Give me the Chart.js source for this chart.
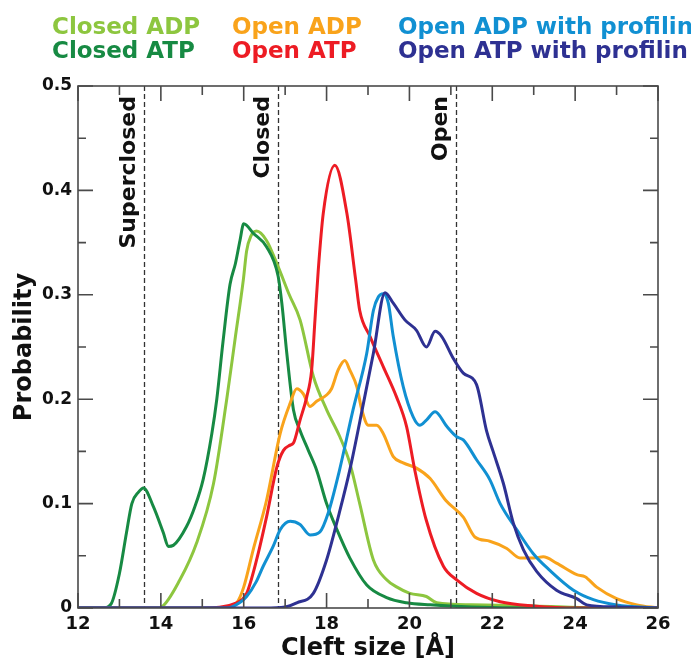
<!DOCTYPE html>
<html>
<head>
<meta charset="utf-8">
<script src="https://cdn.jsdelivr.net/npm/chart.js@4"></script>
<style>
  html, body { margin: 0; padding: 0; background: #fff; }
  #wrap { width: 691px; height: 661px; }
</style>
</head>
<body>
<div id="wrap"><canvas id="cleftChart" width="691" height="661"></canvas></div>
<script>
// cleft size distributions, x in Å, y = probability
const closedAdpX = [12, 13.9, 14.02, 14.46, 14.86, 15.27, 15.59, 15.8, 15.99, 16.07, 16.17, 16.31, 16.55, 16.83, 17.1, 17.36, 17.68, 18.0, 18.32, 18.56, 18.8, 19.13, 19.45, 19.7, 20.01, 20.41, 20.66, 21.5, 23, 24.5, 26];
const closedAdpY = [0, 0, 0.001, 0.027, 0.062, 0.119, 0.2, 0.26, 0.314, 0.342, 0.356, 0.361, 0.352, 0.327, 0.3, 0.276, 0.222, 0.19, 0.164, 0.139, 0.1, 0.046, 0.027, 0.02, 0.014, 0.011, 0.005, 0.003, 0.002, 0, 0];

const closedAtpX = [12, 12.6, 12.8, 13.0, 13.17, 13.3, 13.46, 13.58, 13.82, 14.06, 14.18, 14.3, 14.62, 14.82, 15.02, 15.23, 15.35, 15.5, 15.67, 15.8, 15.91, 16.0, 16.23, 16.55, 16.83, 16.92, 17.04, 17.2, 17.36, 17.56, 17.76, 18.0, 18.25, 18.56, 18.97, 19.45, 19.93, 20.5, 21.5, 23, 26];
const closedAtpY = [0, 0, 0.004, 0.033, 0.072, 0.1, 0.111, 0.115, 0.097, 0.072, 0.059, 0.06, 0.078, 0.097, 0.123, 0.167, 0.2, 0.255, 0.31, 0.33, 0.352, 0.368, 0.359, 0.346, 0.318, 0.292, 0.244, 0.19, 0.17, 0.151, 0.132, 0.1, 0.075, 0.048, 0.022, 0.01, 0.005, 0.003, 0.001, 0, 0];

const openAdpX = [12, 15.5, 15.83, 16.0, 16.23, 16.55, 16.88, 17.12, 17.28, 17.44, 17.6, 17.76, 18.0, 18.12, 18.28, 18.44, 18.56, 18.73, 18.85, 19.01, 19.21, 19.37, 19.61, 19.85, 20.17, 20.5, 20.88, 21.3, 21.58, 21.94, 22.35, 22.67, 23.0, 23.23, 23.55, 24.04, 24.24, 24.52, 25.0, 25.49, 26];
const openAdpY = [0, 0, 0.005, 0.02, 0.056, 0.103, 0.167, 0.196, 0.21, 0.205, 0.193, 0.198, 0.204, 0.21, 0.228, 0.237, 0.228, 0.212, 0.19, 0.175, 0.175, 0.167, 0.145, 0.139, 0.134, 0.124, 0.103, 0.087, 0.068, 0.064, 0.057, 0.048, 0.048, 0.049, 0.043, 0.032, 0.03, 0.02, 0.009, 0.003, 0];

const openAtpX = [12, 15.0, 15.83, 16.07, 16.31, 16.55, 16.8, 16.96, 17.12, 17.2, 17.36, 17.52, 17.64, 17.72, 17.8, 17.92, 18.2, 18.49, 18.7, 18.8, 19.05, 19.37, 19.69, 19.93, 20.13, 20.4, 20.82, 21.14, 21.62, 22.19, 23.0, 24, 26];
const openAtpY = [0, 0, 0.005, 0.014, 0.046, 0.087, 0.135, 0.151, 0.156, 0.158, 0.18, 0.202, 0.228, 0.276, 0.324, 0.378, 0.424, 0.378, 0.315, 0.285, 0.26, 0.231, 0.202, 0.174, 0.132, 0.085, 0.04, 0.027, 0.014, 0.006, 0.002, 0, 0];

const openAdpProfX = [12, 15.6, 15.9, 16.07, 16.3, 16.47, 16.71, 16.88, 17.12, 17.36, 17.6, 17.84, 18.04, 18.3, 18.64, 18.97, 19.13, 19.25, 19.37, 19.49, 19.61, 19.85, 20.09, 20.25, 20.41, 20.62, 20.9, 21.14, 21.3, 21.62, 21.94, 22.19, 22.59, 22.99, 23.39, 23.96, 24.44, 25.0, 26];
const openAdpProfY = [0, 0, 0.005, 0.011, 0.025, 0.04, 0.059, 0.075, 0.083, 0.08, 0.07, 0.073, 0.091, 0.13, 0.19, 0.244, 0.285, 0.298, 0.301, 0.292, 0.26, 0.212, 0.183, 0.175, 0.18, 0.188, 0.174, 0.164, 0.161, 0.142, 0.123, 0.1, 0.075, 0.052, 0.036, 0.017, 0.008, 0.003, 0];

const openAtpProfX = [12, 16.5, 17.0, 17.28, 17.68, 18.0, 18.3, 18.56, 18.89, 19.13, 19.41, 19.61, 19.89, 20.17, 20.41, 20.62, 20.78, 21.06, 21.3, 21.62, 21.86, 22.02, 22.27, 22.51, 22.75, 23.07, 23.55, 24.04, 24.28, 25, 26];
const openAtpProfY = [0, 0, 0.001, 0.005, 0.014, 0.046, 0.09, 0.132, 0.196, 0.244, 0.302, 0.292, 0.276, 0.266, 0.25, 0.265, 0.26, 0.239, 0.225, 0.214, 0.17, 0.15, 0.119, 0.081, 0.056, 0.035, 0.017, 0.009, 0.003, 0.001, 0];

const seriesLabels = ["Closed ADP", "Closed ATP", "Open ADP", "Open ATP", "Open ADP with profilin", "Open ATP with profilin"];
const seriesColors = ["#8dc63f", "#178a43", "#f9a31b", "#ed1c24", "#1190d2", "#2e3192"];
const seriesX = [closedAdpX, closedAtpX, openAdpX, openAtpX, openAdpProfX, openAtpProfX];
const seriesY = [closedAdpY, closedAtpY, openAdpY, openAtpY, openAdpProfY, openAtpProfY];

// reference cleft sizes (dashed lines)
const markerX = [13.6, 16.83, 21.12];
const markerLabels = ["Superclosed", "Closed", "Open"];

const FONT = "'DejaVu Sans', sans-serif";

const datasets = seriesLabels.map((label, i) => ({
  label: label,
  data: seriesX[i].map((x, j) => ({ x: x, y: seriesY[i][j] })),
  borderColor: seriesColors[i],
  borderWidth: 3,
  pointRadius: 0,
  fill: false,
  cubicInterpolationMode: "monotone",
  order: seriesLabels.length - i,
}));

// frame, inward ticks, dashed markers and the coloured text legend
const decorations = {
  id: "decorations",
  beforeDatasetsDraw(chart) {
    const { ctx, chartArea: a, scales } = chart;
    const xs = scales.x;
    ctx.save();
    ctx.strokeStyle = "#333";
    ctx.lineWidth = 1.3;
    ctx.setLineDash([5, 3]);
    markerX.forEach((v) => {
      const px = Math.round(xs.getPixelForValue(v)) + 0.5;
      ctx.beginPath();
      ctx.moveTo(px, a.top);
      ctx.lineTo(px, a.bottom);
      ctx.stroke();
    });
    ctx.setLineDash([]);
    ctx.fillStyle = "#111";
    ctx.font = "bold 22px " + FONT;
    ctx.textAlign = "right";
    ctx.textBaseline = "middle";
    markerX.forEach((v, i) => {
      const px = xs.getPixelForValue(v) - 15;
      ctx.save();
      ctx.translate(px, a.top + 10);
      ctx.rotate(-Math.PI / 2);
      ctx.fillText(markerLabels[i], 0, 0);
      ctx.restore();
    });
    ctx.restore();
  },
  afterDatasetsDraw(chart) {
    const { ctx, chartArea: a, scales } = chart;
    const xs = scales.x, ys = scales.y;
    ctx.save();
    ctx.strokeStyle = "#4a4a4a";
    ctx.lineWidth = 1.6;
    ctx.strokeRect(a.left, a.top, a.right - a.left, a.bottom - a.top);
    ctx.beginPath();
    xs.ticks.forEach((t) => {
      const px = xs.getPixelForValue(t.value);
      const len = t.value % 2 === 0 ? 15 : 9;
      ctx.moveTo(px, a.bottom);
      ctx.lineTo(px, a.bottom - len);
      ctx.moveTo(px, a.top);
      ctx.lineTo(px, a.top + len);
    });
    ys.ticks.forEach((t) => {
      const py = ys.getPixelForValue(t.value);
      const len = Math.round(t.value * 100) % 10 === 0 ? 15 : 8;
      ctx.moveTo(a.left, py);
      ctx.lineTo(a.left + len, py);
      ctx.moveTo(a.right, py);
      ctx.lineTo(a.right - len, py);
    });
    ctx.stroke();
    ctx.restore();
  },
  afterDraw(chart) {
    const { ctx } = chart;
    const colX = [52, 232, 398];
    const rowY = [34, 58];
    ctx.save();
    ctx.font = "bold 23px " + FONT;
    ctx.textAlign = "left";
    ctx.textBaseline = "alphabetic";
    chart.data.datasets.forEach((ds, i) => {
      ctx.fillStyle = ds.borderColor;
      ctx.fillText(ds.label, colX[Math.floor(i / 2)], rowY[i % 2]);
    });
    ctx.restore();
  },
};

new Chart(document.getElementById("cleftChart"), {
  type: "line",
  data: { datasets: datasets },
  options: {
    responsive: false,
    animation: false,
    devicePixelRatio: 1,
    layout: { padding: { top: 86, right: 33, left: 0, bottom: 0 } },
    plugins: { legend: { display: false }, tooltip: { enabled: false } },
    scales: {
      x: {
        type: "linear",
        min: 12,
        max: 26,
        afterFit(scale) { scale.height = 53; },
        grid: { display: false, drawTicks: false },
        border: { display: false },
        ticks: {
          stepSize: 1,
          padding: 6,
          color: "#111",
          font: { family: FONT, weight: "bold", size: 18 },
          maxRotation: 0,
          autoSkip: false,
          callback: (v) => (v % 2 === 0 ? String(v) : ""),
        },
        title: {
          display: true,
          text: "Cleft size [Å]",
          color: "#111",
          font: { family: FONT, weight: "bold", size: 24, lineHeight: 1 },
          padding: { top: 0, bottom: 0 },
        },
      },
      y: {
        min: 0,
        max: 0.5,
        afterFit(scale) { scale.width = 78; },
        grid: { display: false, drawTicks: false },
        border: { display: false },
        ticks: {
          stepSize: 0.05,
          padding: 6,
          color: "#111",
          font: { family: FONT, weight: "bold", size: 17 },
          autoSkip: false,
          callback: (v) => {
            if (Math.round(v * 100) % 10 !== 0) return "";
            return v === 0 ? "0" : v.toFixed(1);
          },
        },
        title: {
          display: true,
          text: "Probability",
          color: "#111",
          font: { family: FONT, weight: "bold", size: 24, lineHeight: 1 },
          padding: { top: 13, bottom: 0 },
        },
      },
    },
  },
  plugins: [decorations],
});
</script>
</body>
</html>
